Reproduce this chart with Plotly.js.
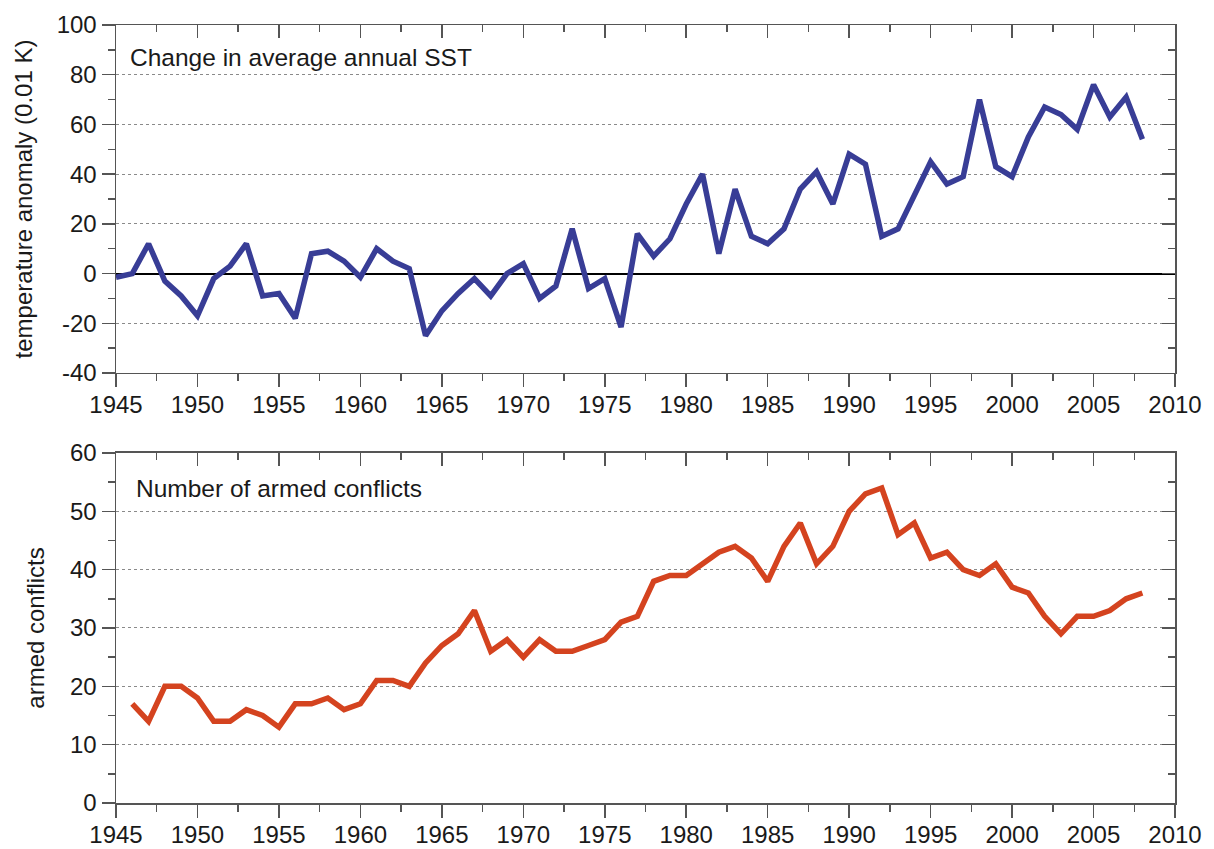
<!DOCTYPE html>
<html>
<head>
<meta charset="utf-8">
<script src="https://cdn.plot.ly/plotly-3.0.1.min.js"></script>
<style>html,body{margin:0;padding:0;background:#fff;}#chart{width:1214px;height:849px;}</style>
</head>
<body>
<div id="chart"></div>
<script>
const years = [];
for (let y = 1945; y <= 2008; y++) years.push(y);

const sstYears = years;
const sstAnomaly = [
  -1.5, 0, 12, -3, -9, -17, -2, 3, 12, -9,
  -8, -18, 8, 9, 5, -1.5, 10, 5, 2, -25,
  -15, -8, -2, -9, 0, 4, -10, -5, 18, -6,
  -2, -21.5, 16, 7, 14, 28, 40, 8, 34, 15,
  12, 18, 34, 41, 28, 48, 44, 15, 18, 31,
  45, 36, 39, 70, 43, 39, 55, 67, 64, 58,
  76, 63, 71, 54
];

const conflictYears = years.slice(1);
const armedConflicts = [
  17, 14, 20, 20, 18, 14, 14, 16, 15, 13,
  17, 17, 18, 16, 17, 21, 21, 20, 24, 27,
  29, 33, 26, 28, 25, 28, 26, 26, 27, 28,
  31, 32, 38, 39, 39, 41, 43, 44, 42, 38,
  44, 48, 41, 44, 50, 53, 54, 46, 48, 42,
  43, 40, 39, 41, 37, 36, 32, 29, 32, 32,
  33, 35, 36
];

const xTickVals = [1945,1950,1955,1960,1965,1970,1975,1980,1985,1990,1995,2000,2005,2010];
const xTickText = xTickVals.map(String);
const topTickVals = [-40,-20,0,20,40,60,80,100];
const topTickText = ['-40','-20','0','20','40','60','80','100'];
const botTickVals = [0,10,20,30,40,50,60];
const botTickText = ['0','10','20','30','40','50','60'];

const FONT = 'Liberation Sans, Arial, Helvetica, sans-serif';
const AX = '#555';
const TXT = '#1a1a1a';
const FS = 24;

const traces = [
  {x: sstYears, y: sstAnomaly, type: 'scatter', mode: 'lines', xaxis: 'x', yaxis: 'y',
   line: {color: '#383d96', width: 5.5, shape: 'linear'}, hoverinfo: 'x+y'},
  {x: conflictYears, y: armedConflicts, type: 'scatter', mode: 'lines', xaxis: 'x2', yaxis: 'y2',
   line: {color: '#d4431f', width: 5.5}, hoverinfo: 'x+y'}
];

const xMinor = xTickVals.slice(0, -1).map(v => v + 2.5);

function xAxisBase(anchor) {
  return {
    range: [1945, 2010], tickvals: xTickVals, ticktext: xTickText,
    ticks: 'outside', ticklen: 13, tickwidth: 1.5, tickcolor: AX,
    ticklabelstandoff: -3,
    minor: {tickvals: xMinor, ticks: 'outside', ticklen: 7, tickwidth: 1.5, tickcolor: AX, showgrid: false},
    showline: true, linecolor: AX, linewidth: 1.5, mirror: true,
    showgrid: false, zeroline: false, anchor: anchor, domain: [0, 1],
    tickfont: {family: FONT, size: FS, color: TXT}, fixedrange: true
  };
}
function xOverlay(over, anchor) {
  return {
    overlaying: over, side: 'top', anchor: anchor, range: [1945, 2010],
    tickvals: xTickVals, ticks: 'inside', ticklen: 13, tickwidth: 1.5, tickcolor: AX,
    minor: {tickvals: xMinor, ticks: 'inside', ticklen: 7, tickwidth: 1.5, tickcolor: AX, showgrid: false},
    showticklabels: false, showline: false, showgrid: false, zeroline: false, fixedrange: true
  };
}
function yOverlay(over, anchor, range, vals, minorVals) {
  return {
    overlaying: over, side: 'right', anchor: anchor, range: range,
    tickvals: vals, ticks: 'inside', ticklen: 13, tickwidth: 1.5, tickcolor: AX,
    minor: {tickvals: minorVals, ticks: 'inside', ticklen: 7, tickwidth: 1.5, tickcolor: AX, showgrid: false},
    showticklabels: false, showline: false, showgrid: false, zeroline: false, fixedrange: true
  };
}

const topMinor = [-30,-10,10,30,50,70,90];
const botMinor = [5,15,25,35,45,55];

const layout = {
  width: 1214, height: 849,
  margin: {l: 116, r: 39, t: 25, b: 46},
  paper_bgcolor: '#fff', plot_bgcolor: '#fff',
  showlegend: false,
  font: {family: FONT, size: FS, color: TXT},
  xaxis: xAxisBase('y'),
  yaxis: {
    domain: [0.5527, 1], range: [-40, 100], tickvals: topTickVals, ticktext: topTickText,
    ticks: 'outside', ticklen: 13, tickwidth: 1.5, tickcolor: AX,
    minor: {tickvals: topMinor, ticks: 'outside', ticklen: 7, tickwidth: 1.5, tickcolor: AX, showgrid: false},
    showline: true, linecolor: AX, linewidth: 1.5, mirror: true,
    showgrid: true, gridcolor: '#8a8a8a', gridwidth: 1, griddash: 'dot',
    zeroline: true, zerolinecolor: '#000', zerolinewidth: 2,
    anchor: 'x', tickfont: {family: FONT, size: FS, color: TXT},
    title: {text: 'temperature anomaly (0.01 K)', font: {family: FONT, size: FS, color: TXT}, standoff: 17},
    fixedrange: true
  },
  xaxis2: xAxisBase('y2'),
  yaxis2: {
    domain: [0, 0.4499], range: [0, 60], tickvals: botTickVals, ticktext: botTickText,
    ticks: 'outside', ticklen: 13, tickwidth: 1.5, tickcolor: AX,
    minor: {tickvals: botMinor, ticks: 'outside', ticklen: 7, tickwidth: 1.5, tickcolor: AX, showgrid: false},
    showline: true, linecolor: AX, linewidth: 1.5, mirror: true,
    showgrid: true, gridcolor: '#8a8a8a', gridwidth: 1, griddash: 'dot',
    zeroline: false, anchor: 'x2', tickfont: {family: FONT, size: FS, color: TXT},
    title: {text: 'armed conflicts', font: {family: FONT, size: FS, color: TXT}, standoff: 18},
    fixedrange: true
  },
  xaxis3: xOverlay('x', 'y'),
  yaxis3: yOverlay('y', 'x', [-40, 100], topTickVals, topMinor),
  xaxis4: xOverlay('x2', 'y2'),
  yaxis4: yOverlay('y2', 'x2', [0, 60], botTickVals, botMinor),
  annotations: [
    {text: 'Change in average annual SST', xref: 'paper', yref: 'paper', x: 0.011, y: 0.9576,
     xanchor: 'left', yanchor: 'middle', showarrow: false, font: {family: FONT, size: 24.5, color: TXT}},
    {text: 'Number of armed conflicts', xref: 'paper', yref: 'paper', x: 0.017, y: 0.4036,
     xanchor: 'left', yanchor: 'middle', showarrow: false, font: {family: FONT, size: 24.5, color: TXT}}
  ]
};

traces.push({x: [1945, 2010], y: [-40, 100], xaxis: 'x3', yaxis: 'y3', type: 'scatter', mode: 'markers', marker: {opacity: 0}, hoverinfo: 'skip'});
traces.push({x: [1945, 2010], y: [0, 60], xaxis: 'x4', yaxis: 'y4', type: 'scatter', mode: 'markers', marker: {opacity: 0}, hoverinfo: 'skip'});

Plotly.newPlot('chart', traces, layout, {displayModeBar: false, staticPlot: true});
</script>
</body>
</html>
